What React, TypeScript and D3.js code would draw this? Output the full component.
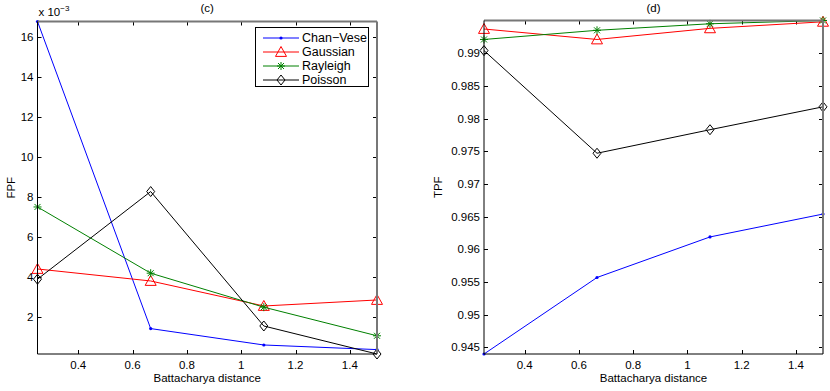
import React, { useEffect, useRef } from 'react'
import * as d3 from 'd3'

const distances = [0.25, 0.6667, 1.0833, 1.5]
const seriesNames = ['Chan-Vese', 'Gaussian', 'Rayleigh', 'Poisson']
const seriesColors = ['#0000ff', '#ff0000', '#008000', '#000000']
const seriesMarkers = ['dot', 'triangle', 'star', 'diamond']

// FPF values, x 10^-3
const fpfChanVese = [16.75, 1.4, 0.58, 0.35]
const fpfGaussian = [4.38, 3.78, 2.53, 2.83]
const fpfRayleigh = [7.48, 4.17, 2.47, 1.04]
const fpfPoisson = [3.87, 8.25, 1.53, 0.13]

const tpfChanVese = [0.944, 0.9557, 0.9619, 0.9654]
const tpfGaussian = [0.9937, 0.9921, 0.9938, 0.9948]
const tpfRayleigh = [0.9921, 0.9935, 0.9945, 0.995]
const tpfPoisson = [0.9904, 0.9747, 0.9783, 0.9818]

const xTicks = [0.4, 0.6, 0.8, 1, 1.2, 1.4]
const fpfTicks = [2, 4, 6, 8, 10, 12, 14, 16]
const tpfTicks = [0.945, 0.95, 0.955, 0.96, 0.965, 0.97, 0.975, 0.98, 0.985, 0.99]

const FONT = 'Liberation Sans, Arial, sans-serif'

type Panel = {
  left: number
  right: number
  top: number
  bottom: number
  yDomain: [number, number]
  yTicks: number[]
  yFmt: (v: number) => string
  series: number[][]
  title: string
  ylabel: string
  ylabelX: number
  legend: boolean
  exponent: boolean
}

const panels: Panel[] = [
  {
    left: 37.5, right: 377, top: 21.5, bottom: 354,
    yDomain: [0.13, 16.75], yTicks: fpfTicks, yFmt: (v) => String(v),
    series: [fpfChanVese, fpfGaussian, fpfRayleigh, fpfPoisson],
    title: '(c)', ylabel: 'FPF', ylabelX: 11, legend: true, exponent: true,
  },
  {
    left: 484, right: 823, top: 20.5, bottom: 354,
    yDomain: [0.944, 0.995], yTicks: tpfTicks, yFmt: (v) => String(+v.toFixed(3)),
    series: [tpfChanVese, tpfGaussian, tpfRayleigh, tpfPoisson],
    title: '(d)', ylabel: 'TPF', ylabelX: 438, legend: false, exponent: false,
  },
]

function drawMarker(g: any, kind: string, x: number, y: number, color: string) {
  if (kind === 'dot') {
    g.append('circle').attr('cx', x).attr('cy', y).attr('r', 1.6).attr('fill', color)
  } else if (kind === 'triangle') {
    const s = 5.5
    g.append('path')
      .attr('d', `M${x},${y - s}L${x + s},${y + s * 0.8}L${x - s},${y + s * 0.8}Z`)
      .attr('fill', 'none').attr('stroke', color).attr('stroke-width', 1)
  } else if (kind === 'star') {
    const s = 4
    const p = `M${x - s},${y}L${x + s},${y}M${x},${y - s}L${x},${y + s}M${x - 3},${y - 3}L${x + 3},${y + 3}M${x - 3},${y + 3}L${x + 3},${y - 3}`
    g.append('path').attr('d', p).attr('stroke', color).attr('stroke-width', 1)
  } else {
    const s = 5
    g.append('path')
      .attr('d', `M${x},${y - s}L${x + s * 0.8},${y}L${x},${y + s}L${x - s * 0.8},${y}Z`)
      .attr('fill', 'none').attr('stroke', color).attr('stroke-width', 1)
  }
}

const App = () => {
  const svgRef = useRef<SVGSVGElement>(null)

  useEffect(() => {
    const svg = d3.select(svgRef.current)
    svg.selectAll('*').remove()

    panels.forEach((p) => {
      const x = d3.scaleLinear().domain([0.25, 1.5]).range([p.left, p.right])
      const y = d3.scaleLinear().domain(p.yDomain).range([p.bottom, p.top])
      const g = svg.append('g')

      // ticks (inside, on all four sides)
      const tl = 4
      xTicks.forEach((t) => {
        const xx = Math.round(x(t)) + 0.5
        g.append('line').attr('x1', xx).attr('x2', xx).attr('y1', p.bottom).attr('y2', p.bottom - tl).attr('stroke', '#000')
        g.append('line').attr('x1', xx).attr('x2', xx).attr('y1', p.top).attr('y2', p.top + tl).attr('stroke', '#000')
        g.append('text').attr('x', x(t)).attr('y', p.bottom + 15).attr('text-anchor', 'middle')
          .attr('font-family', FONT).attr('font-size', 11.5).text(String(t))
      })
      p.yTicks.forEach((t) => {
        const yy = Math.round(y(t)) + 0.5
        g.append('line').attr('x1', p.left).attr('x2', p.left + tl).attr('y1', yy).attr('y2', yy).attr('stroke', '#000')
        g.append('line').attr('x1', p.right).attr('x2', p.right - tl).attr('y1', yy).attr('y2', yy).attr('stroke', '#000')
        g.append('text').attr('x', p.left - 4).attr('y', y(t) + 4).attr('text-anchor', 'end')
          .attr('font-family', FONT).attr('font-size', 11.5).text(p.yFmt(t))
      })

      // data lines
      const line = d3.line<number>().x((_, i) => x(distances[i])).y((d) => y(d))
      p.series.forEach((vals, si) => {
        g.append('path').attr('d', line(vals)).attr('fill', 'none')
          .attr('stroke', seriesColors[si]).attr('stroke-width', 1)
        vals.forEach((v, i) => drawMarker(g, seriesMarkers[si], x(distances[i]), y(v), seriesColors[si]))
      })

      // box
      g.append('line').attr('x1', p.left).attr('x2', p.right).attr('y1', p.top).attr('y2', p.top).attr('stroke', '#777').attr('stroke-width', 2)
      g.append('line').attr('x1', p.right).attr('x2', p.right).attr('y1', p.top).attr('y2', p.bottom).attr('stroke', '#777').attr('stroke-width', 2)
      g.append('line').attr('x1', p.left).attr('x2', p.left).attr('y1', p.top).attr('y2', p.bottom).attr('stroke', '#000')
      g.append('line').attr('x1', p.left).attr('x2', p.right).attr('y1', p.bottom).attr('y2', p.bottom).attr('stroke', '#000')

      // labels
      g.append('text').attr('x', (p.left + p.right) / 2).attr('y', 12).attr('text-anchor', 'middle')
        .attr('font-family', FONT).attr('font-size', 11.5).text(p.title)
      g.append('text').attr('x', (p.left + p.right) / 2).attr('y', 382).attr('text-anchor', 'middle')
        .attr('font-family', FONT).attr('font-size', 11.5).text('Battacharya distance')
      g.append('text').attr('transform', `translate(${p.ylabelX + 4},${(p.top + p.bottom) / 2}) rotate(-90)`)
        .attr('text-anchor', 'middle').attr('font-family', FONT).attr('font-size', 11.5).text(p.ylabel)

      if (p.exponent) {
        const t = g.append('text').attr('x', p.left + 1).attr('y', 16).attr('font-family', FONT).attr('font-size', 11.5)
        t.append('tspan').text('x 10')
        t.append('tspan').attr('dy', -5).attr('font-size', 8).text('−3')
      }

      if (p.legend) {
        const lx = 255.5, ly = 27.5, lw = 113, lh = 59
        g.append('rect').attr('x', lx).attr('y', ly).attr('width', lw).attr('height', lh)
          .attr('fill', '#fff').attr('stroke', '#000')
        seriesNames.forEach((name, i) => {
          const yy = 38 + i * 14
          g.append('line').attr('x1', 263).attr('x2', 299).attr('y1', yy).attr('y2', yy)
            .attr('stroke', seriesColors[i])
          drawMarker(g, seriesMarkers[i], 281, yy, seriesColors[i])
          g.append('text').attr('x', 302).attr('y', yy + 4).attr('font-family', FONT).attr('font-size', 12.5)
            .text(name === 'Chan-Vese' ? 'Chan−Vese' : name)
        })
      }
    })
  }, [])

  return (
    <svg ref={svgRef} width={830} height={391} style={{ position: 'absolute', left: 0, top: 0, background: '#fff' }} />
  )
}

export default App
